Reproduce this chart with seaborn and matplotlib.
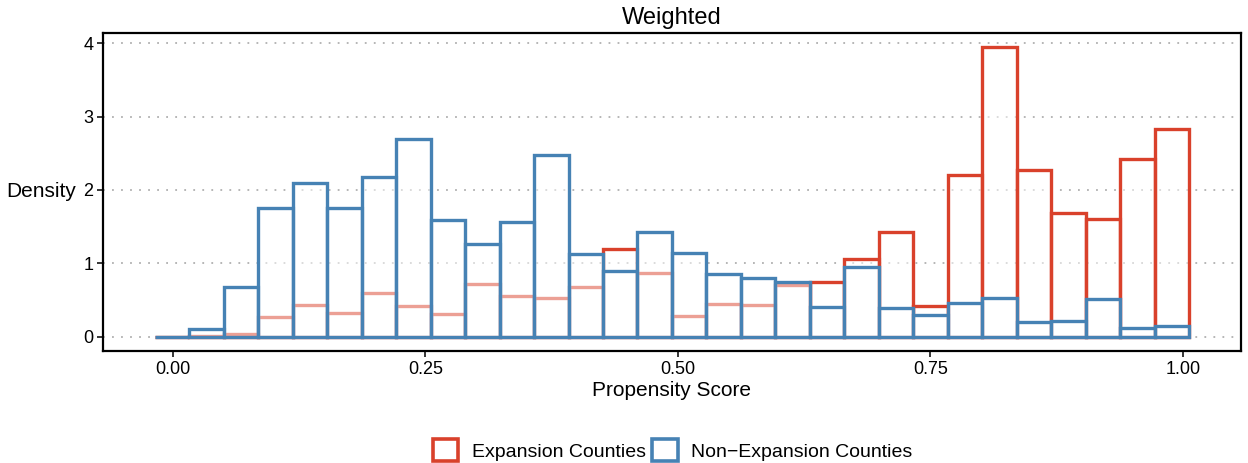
import numpy as np
import matplotlib
matplotlib.use("Agg")
import matplotlib.pyplot as plt
import seaborn as sns
from matplotlib.patches import Patch

# bins: 30 bins (ggplot default), first/last centred on min/max propensity score
bin_lo, bin_hi, n_bins = -0.0181, 1.0065, 30

# weighted densities per bin
expansion = [0.0, 0.01, 0.035, 0.26, 0.43, 0.32, 0.59, 0.41, 0.31, 0.72,
             0.55, 0.52, 0.67, 1.19, 0.86, 0.275, 0.44, 0.435, 0.70, 0.75,
             1.054, 1.43, 0.41, 2.20, 3.95, 2.275, 1.69, 1.61, 2.425, 2.83]
non_expansion = [0.0, 0.10, 0.67, 1.75, 2.10, 1.755, 2.175, 2.69, 1.59, 1.26,
                 1.556, 2.48, 1.126, 0.90, 1.42, 1.135, 0.855, 0.805, 0.737, 0.40,
                 0.955, 0.385, 0.29, 0.457, 0.52, 0.20, 0.217, 0.51, 0.118, 0.15]
labels = ["Expansion Counties", "Non\u2212Expansion Counties"]
red = "#d9412b"
blue = "#4682b4"

edges = np.linspace(bin_lo, bin_hi, n_bins + 1)
centers = (edges[:-1] + edges[1:]) / 2

sns.set_theme(style="white")
plt.rcParams["font.family"] = ["Liberation Sans", "DejaVu Sans"]
plt.rcParams["text.color"] = "black"
plt.rcParams["axes.labelcolor"] = "black"

fig = plt.figure(figsize=(12.48, 4.63), dpi=100)
ax = fig.add_axes([0.0825, 0.2419, 0.9119, 0.6879])

for vals, col in [(expansion, red), (non_expansion, blue)]:
    sns.histplot(x=centers, weights=np.array(vals), bins=edges.tolist(), stat="count",
                 element="bars", fill=True, facecolor=(1, 1, 1, 0.5),
                 edgecolor=col, linewidth=2.4, ax=ax)

ymax = max(max(expansion), max(non_expansion))
xpad = 0.05 * (bin_hi - bin_lo)
ax.set_xlim(bin_lo - xpad, bin_hi + xpad)
ax.set_ylim(-0.05 * ymax, 1.05 * ymax)

ax.set_xticks([0, 0.25, 0.5, 0.75, 1.0])
ax.set_xticklabels(["0.00", "0.25", "0.50", "0.75", "1.00"])
ax.set_yticks([0, 1, 2, 3, 4])
ax.tick_params(axis="both", direction="out", length=4, width=1.1, color="black",
               labelsize=13, labelcolor="black", pad=3)
ax.tick_params(axis="both", which="both", bottom=True, left=True)
ax.yaxis.grid(True, color="#b0b0b0", linestyle=(0, (1, 4)), linewidth=1.3)
ax.xaxis.grid(False)
ax.set_axisbelow(True)
for sp in ax.spines.values():
    sp.set_color("black")
    sp.set_linewidth(1.6)

ax.set_title("Weighted", fontsize=17, pad=6, color="black")
ax.set_xlabel("Propensity Score", fontsize=15)
ax.xaxis.set_label_coords(0.5, -0.125)
ax.xaxis.label.set_va("center")
ax.set_ylabel("Density", fontsize=15, rotation=0, ha="right", va="center")
ax.yaxis.set_label_coords(-0.024, 0.5)

handles = [Patch(facecolor="white", edgecolor=c, linewidth=2.6) for c in (red, blue)]
fig.legend(handles, labels, loc="center", bbox_to_anchor=(0.539, 0.028), ncol=2,
           frameon=False, fontsize=14, handlelength=1.3, handleheight=1.3,
           handletextpad=0.7, columnspacing=0.35)

fig.savefig("out.png", dpi=100)
